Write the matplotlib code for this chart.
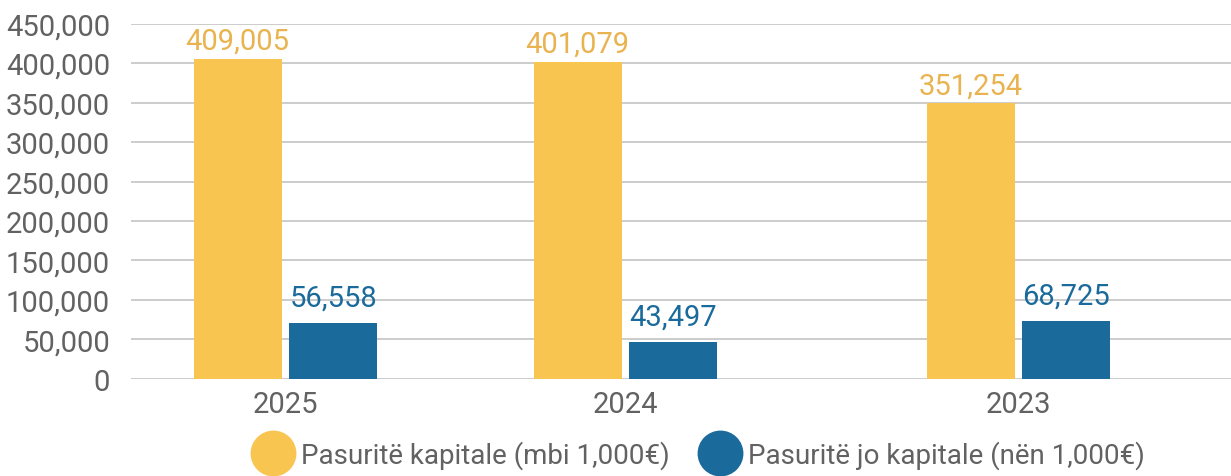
import matplotlib.pyplot as plt
from matplotlib.lines import Line2D
from matplotlib.ticker import FuncFormatter

# Data
years = ["2025", "2024", "2023"]
kapitale_labels = ["409,005", "401,079", "351,254"]
jo_kapitale_labels = ["56,558", "43,497", "68,725"]
# bar heights as drawn against the y axis
kapitale = [405000, 401500, 349000]
jo_kapitale = [71000, 47000, 73500]
legend_names = ["Pasuritë kapitale (mbi 1,000€)", "Pasuritë jo kapitale (nën 1,000€)"]

gold = "#F8C550"
gold_text = "#E9B350"
blue = "#1A6A9B"
grey_text = "#626262"

plt.rcParams['font.family'] = ['Roboto', 'DejaVu Sans']

fig = plt.figure(figsize=(12.31, 4.77), dpi=100)
ax = fig.add_axes([0.1064, 0.2034, 0.8936, 0.7452])

# group centres (the source spaces the groups unevenly)
group_x = [0.0, 1.0, 2.156]
width = 0.259
offset = 0.1405

gx = [g - offset for g in group_x]
bx = [g + offset for g in group_x]
bars1 = ax.bar(gx, kapitale, width, color=gold, zorder=3)
bars2 = ax.bar(bx, jo_kapitale, width, color=blue, zorder=3)

for bar, lab in zip(bars1, kapitale_labels):
    ax.annotate(lab, (bar.get_x() + bar.get_width() / 2, bar.get_height()),
                xytext=(0, 3), textcoords="offset points",
                ha="center", va="bottom", fontsize=21, color=gold_text)
for bar, lab in zip(bars2, jo_kapitale_labels):
    ax.annotate(lab, (bar.get_x() + bar.get_width() / 2, bar.get_height()),
                xytext=(0, 8), textcoords="offset points",
                ha="center", va="bottom", fontsize=21, color=blue)

ax.set_xlim(-0.454, 2.781)
ax.set_ylim(0, 450000)
ax.set_yticks(range(0, 450001, 50000))
ax.yaxis.set_major_formatter(FuncFormatter(lambda v, p: f"{int(v):,}"))
ax.set_xticks(group_x)
ax.set_xticklabels(years)

ax.tick_params(axis="y", length=0, pad=15, labelsize=21, labelcolor=grey_text)
ax.tick_params(axis="x", length=0, pad=8, labelsize=21, labelcolor=grey_text)

ax.grid(axis="y", color="#C8C8C8", linewidth=1.3, zorder=0)
ax.set_axisbelow(True)
for s in ax.spines.values():
    s.set_visible(False)

handles = [
    Line2D([], [], marker="o", linestyle="none", markersize=32,
           markerfacecolor=gold, markeredgecolor=gold),
    Line2D([], [], marker="o", linestyle="none", markersize=32,
           markerfacecolor=blue, markeredgecolor=blue),
]
leg = fig.legend(handles, legend_names, loc="center", ncol=2,
                 bbox_to_anchor=(0.567, 0.044), frameon=False,
                 fontsize=20, handletextpad=0.2, columnspacing=1.0,
                 handlelength=1.6)
for t in leg.get_texts():
    t.set_color(grey_text)

fig.savefig("out.png", dpi=100)
